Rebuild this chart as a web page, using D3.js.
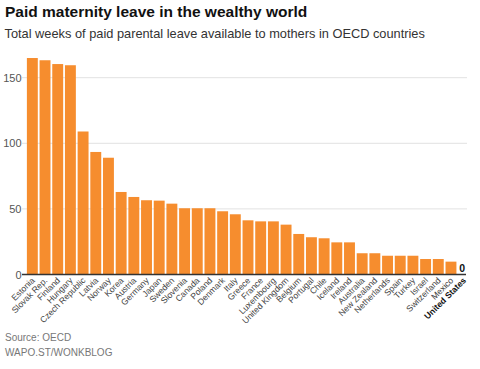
<!DOCTYPE html>
<html>
<head>
<meta charset="utf-8">
<script src="https://cdn.jsdelivr.net/npm/d3@7"></script>
<style>
  html, body { margin: 0; padding: 0; background: #fff; }
  svg { display: block; font-family: "Liberation Sans", Arial, sans-serif; }
</style>
</head>
<body>
<svg id="chart" width="480" height="369"></svg>
<script>
const countries = ["Estonia","Slovak Rep.","Finland","Hungary","Czech Republic","Latvia","Norway","Korea","Austria","Germany","Japan","Sweden","Slovenia","Canada","Poland","Denmark","Italy","Greece","France","Luxembourg","United Kingdom","Belgium","Portugal","Chile","Iceland","Ireland","Australia","New Zealand","Netherlands","Spain","Turkey","Israel","Switzerland","Mexico","United States"];
const weeks = [165,163.3,160.4,159.5,109,93.4,89,62.9,59.1,56.6,56.3,54,50.5,50.5,50.5,48.2,45.9,41.3,40.5,40.5,38,30.9,28.4,27.6,24.5,24.5,16.2,16.2,14.3,14.3,14.3,11.8,11.8,9.8,0];
const yTicks = [0,50,100,150];
const title = "Paid maternity leave in the wealthy world";
const subtitle = "Total weeks of paid parental leave available to mothers in OECD countries";
const sourceLines = ["Source: OECD","WAPO.ST/WONKBLOG"];
const highlight = "United States";

const svg = d3.select("#chart");

const x = d3.scaleBand().domain(countries).range([26, 470]).paddingInner(0.14).paddingOuter(0.07);
const y = d3.scaleLinear().domain([0, 150]).range([274.5, 77.7]);

svg.append("text").attr("x", 5).attr("y", 17)
  .attr("font-size", 15.5).attr("font-weight", "bold").attr("fill", "#111").text(title);
svg.append("text").attr("x", 4.5).attr("y", 37.5)
  .attr("font-size", 12.8).attr("fill", "#333").text(subtitle);

// gridlines
svg.append("g").selectAll("line").data(yTicks.filter(d => d > 0)).join("line")
  .attr("x1", 22).attr("x2", 467)
  .attr("y1", d => y(d)).attr("y2", d => y(d))
  .attr("stroke", "#e2e2e2").attr("stroke-width", 1);

// y labels
svg.append("g").selectAll("text").data(yTicks).join("text")
  .attr("x", 21.5).attr("y", d => y(d))
  .attr("text-anchor", "end").attr("dominant-baseline", "central")
  .attr("font-size", 11).attr("fill", "#555").text(d => d);

// bars
svg.append("g").selectAll("rect").data(countries).join("rect")
  .attr("x", d => x(d))
  .attr("width", x.bandwidth())
  .attr("y", (d, i) => y(weeks[i]))
  .attr("height", (d, i) => y(0) - y(weeks[i]))
  .attr("fill", "#f68d2e");

// baseline axis
svg.append("line").attr("x1", 22).attr("x2", 466)
  .attr("y1", y(0)).attr("y2", y(0))
  .attr("stroke", "#333").attr("stroke-width", 1.3);

// value label for highlighted
const hi = countries.indexOf(highlight);
svg.append("text").attr("x", x(highlight) + 1).attr("y", y(weeks[hi]) - 2.3)
  .attr("font-size", 10.5).attr("font-weight", "bold").attr("fill", "#111").text(weeks[hi]);

// country labels
svg.append("g").selectAll("text").data(countries).join("text")
  .attr("transform", d => `translate(${x(d) + x.bandwidth() / 2 + 3},${y(0) + 6.5}) rotate(-45)`)
  .attr("text-anchor", "end")
  .attr("font-size", 8.6)
  .attr("font-weight", d => d === highlight ? "bold" : "normal")
  .attr("fill", d => d === highlight ? "#111" : "#444")
  .text(d => d);

// source
svg.append("g").selectAll("text").data(sourceLines).join("text")
  .attr("x", 5).attr("y", (d, i) => 341 + i * 14.5)
  .attr("font-size", 10).attr("fill", "#777").text(d => d);
</script>
</body>
</html>
